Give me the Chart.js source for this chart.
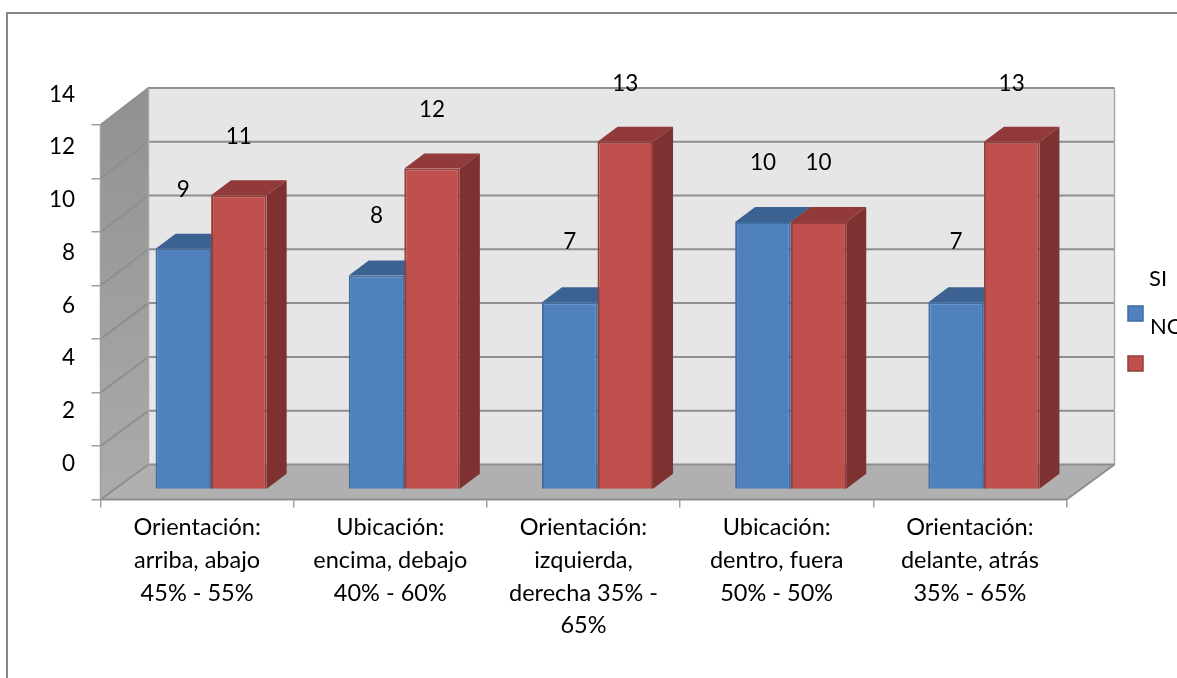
<!DOCTYPE html>
<html><head><meta charset="utf-8">
<style>html,body{margin:0;padding:0;background:#fff;overflow:hidden}#w{width:1177px;height:678px;position:relative}</style>
<script src="https://cdn.jsdelivr.net/npm/chart.js@4/dist/chart.umd.min.js"></script>
</head><body><div id="w"><canvas id="c" width="1177" height="678"></canvas></div>
<script>
const categories = [
  ['Orientación:','arriba, abajo','45% - 55%'],
  ['Ubicación:','encima, debajo','40% - 60%'],
  ['Orientación:','izquierda,','derecha 35% -','65%'],
  ['Ubicación:','dentro, fuera','50% - 50%'],
  ['Orientación:','delante, atrás','35% - 65%']
];
const siValues = [9, 8, 7, 10, 7];
const noValues = [11, 12, 13, 10, 13];
const seriesNames = ['SI', 'NO'];
const yTicks = [0, 2, 4, 6, 8, 10, 12, 14];

const FONT = 'Lato, Carlito, Calibri, sans-serif';
const FS_X = 23.5, FS_N = 22.5, FS_L = 22;
const GRID = '#8e8e8e';
const backX = 48, barX = 14, barY = -10, sideX = 20, sideY = -15;
const backY = v => -35 - v / 7;
const shades = [
  {top:'#3c6291', side:'#335a88', edge:'#3f6ca3'},
  {top:'#923939', side:'#7d3130', edge:'#953e3b'}
];

function poly(ctx, pts, fill, stroke, lw){
  ctx.beginPath();
  pts.forEach((p,i)=> i?ctx.lineTo(p[0],p[1]):ctx.moveTo(p[0],p[1]));
  ctx.closePath();
  if(fill){ctx.fillStyle=fill;ctx.fill();}
  if(stroke){ctx.strokeStyle=stroke;ctx.lineWidth=lw||1;ctx.stroke();}
}

const scene = {
  id:'scene',
  beforeDraw(chart){
    const {ctx, chartArea:a, scales:{y}} = chart;
    ctx.save();
    ctx.fillStyle='#fff';ctx.fillRect(0,0,chart.width,chart.height);
    ctx.strokeStyle='#868686';ctx.lineWidth=2;
    ctx.strokeRect(7,13,chart.width+20,chart.height+20);
    const L=a.left,R=a.right,v0=yTicks[0],vN=yTicks[yTicks.length-1];
    const f0=y.getPixelForValue(v0),fN=y.getPixelForValue(vN);
    const b0=f0+backY(v0),bN=fN+backY(vN);
    poly(ctx,[[L+backX,bN],[R+backX,bN],[R+backX,b0],[L+backX,b0]],'#e6e6e6');
    const g=ctx.createLinearGradient(0,bN,0,f0);
    g.addColorStop(0,'#919191');g.addColorStop(1,'#ababab');
    poly(ctx,[[L,fN],[L+backX,bN],[L+backX,b0],[L,f0]],g);
    poly(ctx,[[L,f0],[L+backX,b0],[R+backX,b0],[R,f0]],'#b0b0b0');
    ctx.strokeStyle=GRID;ctx.lineWidth=2;
    yTicks.forEach(v=>{
      const f=y.getPixelForValue(v),b=f+backY(v);
      ctx.beginPath();ctx.moveTo(L,f);ctx.lineTo(L+backX,b);ctx.lineTo(R+backX,b);ctx.stroke();
    });
    ctx.lineWidth=1.5;ctx.strokeStyle='#a8a8a8';
    ctx.beginPath();ctx.moveTo(L+backX,bN);ctx.lineTo(L+backX,b0);
    ctx.moveTo(R+backX,bN);ctx.lineTo(R+backX,b0);ctx.stroke();
    ctx.strokeStyle=GRID;ctx.lineWidth=2;
    ctx.beginPath();ctx.moveTo(R+backX,b0);ctx.lineTo(R,f0);ctx.lineTo(L,f0);ctx.stroke();
    ctx.strokeStyle='#a0a0a0';ctx.lineWidth=1.5;
    ctx.beginPath();ctx.moveTo(L,fN);ctx.lineTo(L,f0);ctx.stroke();
    ctx.restore();
  },
  beforeDatasetsDraw(chart){
    const ctx=chart.ctx;
    ctx.save();
    ctx.translate(barX,barY);
    chart.data.datasets.forEach((ds,i)=>{
      chart.getDatasetMeta(i).data.forEach(b=>{
        const hw=b.width/2,l=b.x-hw,r=b.x+hw,t=b.y,bt=b.base;
        poly(ctx,[[l,t],[l+sideX,t+sideY],[r+sideX,t+sideY],[r,t]],shades[i].top);
        poly(ctx,[[r,t],[r+sideX,t+sideY],[r+sideX,bt+sideY],[r,bt]],shades[i].side);
      });
    });
  },
  afterDatasetsDraw(chart){
    chart.ctx.restore();
  },
  afterDraw(chart){
    const {ctx, scales:{yL}} = chart;
    ctx.save();
    ctx.font=FS_N+'px '+FONT;ctx.fillStyle='#000';ctx.textAlign='center';ctx.textBaseline='middle';
    chart.data.datasets.forEach((ds,i)=>{
      chart.getDatasetMeta(i).data.forEach((b,j)=>{
        ctx.fillText(String(ds.data[j]),b.x+barX,yL.getPixelForValue(ds.data[j])-37);
      });
    });
    const swY=[306,356], txtY=[279,327], txtX=[1149,1150];
    ctx.font=FS_L+'px '+FONT;
    chart.data.datasets.forEach((ds,i)=>{
      ctx.fillStyle=ds.backgroundColor;ctx.strokeStyle=shades[i].edge;ctx.lineWidth=1.5;
      ctx.fillRect(1128,swY[i],15,15);ctx.strokeRect(1128,swY[i],15,15);
      ctx.fillStyle='#000';ctx.textAlign='left';
      ctx.fillText(ds.label,txtX[i],txtY[i]);
    });
    ctx.restore();
  }
};

new Chart(document.getElementById('c'),{
  type:'bar',
  data:{labels:categories,datasets:[
    {label:seriesNames[0],data:siValues,backgroundColor:'#4f81bd',borderColor:shades[0].edge,borderWidth:2,clip:false,yAxisID:'y'},
    {label:seriesNames[1],data:noValues,backgroundColor:'#c0504d',borderColor:shades[1].edge,borderWidth:2,clip:false,yAxisID:'y'}
  ]},
  plugins:[scene],
  options:{
    responsive:false,animation:false,devicePixelRatio:1,
    layout:{padding:{left:0,top:88,right:110.5,bottom:0}},
    plugins:{legend:{display:false},title:{display:false},tooltip:{enabled:false}},
    datasets:{bar:{categoryPercentage:0.575,barPercentage:1}},
    scales:{
      x:{
        type:'category',offset:true,
        grid:{drawOnChartArea:false,drawTicks:true,tickLength:8,color:'#a0a0a0',lineWidth:1.5,offset:true},
        border:{display:false},
        ticks:{autoSkip:false,maxRotation:0,minRotation:0,padding:4,color:'#000',font:{family:FONT,size:FS_X,lineHeight:1.39}},
        afterFit(s){s.height=178.5;}
      },
      y:{
        position:'left',weight:1,min:0,max:15.38,
        grid:{drawOnChartArea:false,drawTicks:true,tickLength:9,color:'#a0a0a0',lineWidth:1.5},
        border:{display:false},
        ticks:{display:false},
        afterBuildTicks(s){s.ticks=yTicks.map(v=>({value:v}));},
        afterFit(s){s.width=0.5;}
      },
      yL:{
        position:'left',weight:2,min:-1.363,max:14.247,
        grid:{display:false,drawTicks:false},
        border:{display:false},
        ticks:{autoSkip:false,padding:25,color:'#000',font:{family:FONT,size:FS_N}},
        afterBuildTicks(s){s.ticks=yTicks.map(v=>({value:v}));},
        afterFit(s){s.width=100;}
      }
    }
  }
});
</script></body></html>
